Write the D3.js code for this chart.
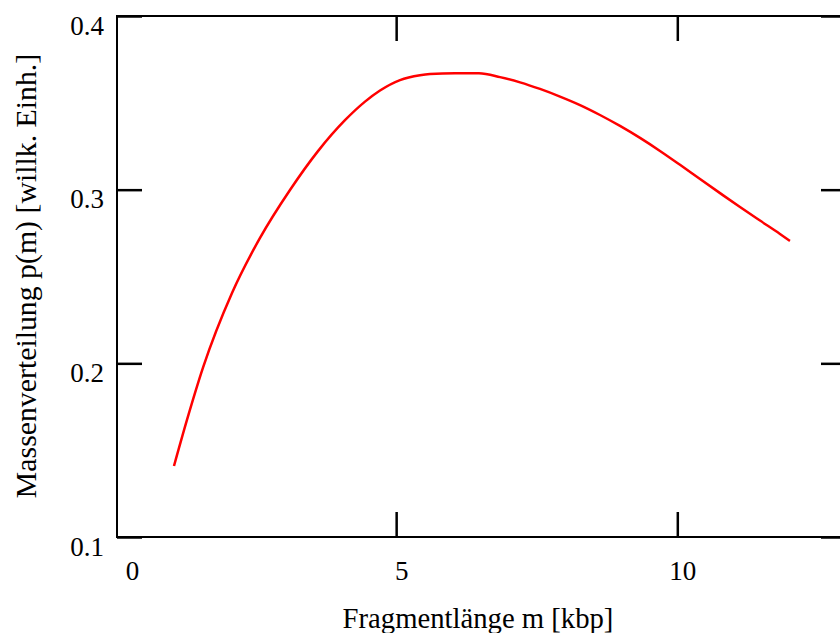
<!DOCTYPE html>
<html>
<head>
<meta charset="utf-8">
<script src="https://cdn.jsdelivr.net/npm/d3@7"></script>
<style>
  html, body { margin: 0; padding: 0; background: #fff; }
  svg { display: block; }
  text { font-family: "Liberation Serif", "Times New Roman", serif; fill: #000; }
</style>
</head>
<body>
<svg id="chart" width="840" height="633"></svg>
<script>
// ---- data ----
const xTicks = [0, 5, 10];
const yTicks = [0.1, 0.2, 0.3, 0.4];
const xTitle = "Fragmentlänge m [kbp]";
const yTitle = "Massenverteilung p(m) [willk. Einh.]";

const mValues = [1.049, 1.280, 1.565, 2.081, 2.579, 3.112, 3.610, 4.090, 4.446, 4.713, 5.068, 5.424, 5.602, 6.047, 6.473, 6.847, 7.203, 7.558, 7.914, 8.270, 8.625, 8.981, 9.337, 9.692, 10.048, 10.404, 10.760, 11.115, 11.471, 11.826, 12.004];
const pValues = [0.1409, 0.1674, 0.1975, 0.2405, 0.2722, 0.2998, 0.3222, 0.3400, 0.3507, 0.3571, 0.3631, 0.3659, 0.3666, 0.3671, 0.3670, 0.3648, 0.3618, 0.3580, 0.3536, 0.3487, 0.3430, 0.3367, 0.3298, 0.3223, 0.3143, 0.3061, 0.2980, 0.2900, 0.2822, 0.2745, 0.2705];

// ---- layout ----
const svg = d3.select("#chart");
const x = d3.scaleLinear().domain([0, 13]).range([115, 846]);
const y = d3.scaleLinear().domain([0.1, 0.4]).range([537, 16]);
const frameL = 117, frameR = x.range()[1], frameT = y(0.4), frameB = y(0.1);
const tickLen = 25;
const serif = "'Liberation Serif', 'Times New Roman', serif";

// frame
svg.append("rect")
  .attr("x", frameL).attr("y", frameT)
  .attr("width", frameR - frameL).attr("height", frameB - frameT)
  .attr("fill", "none").attr("stroke", "#000").attr("stroke-width", 2);

function styleAxis(g) {
  g.attr("font-family", serif).attr("font-size", 27);
  g.select(".domain").remove();
  g.selectAll(".tick line").attr("stroke", "#000").attr("stroke-width", 2.5);
  g.selectAll(".tick text")
    .attr("fill", "#000")
    .style("font-family", serif)
    .style("font-size", "27px");
}

// bottom axis
const gBottom = svg.append("g")
  .attr("transform", `translate(0,${frameB})`)
  .call(d3.axisBottom(x).tickValues(xTicks).tickSize(-tickLen).tickPadding(24).tickFormat(d3.format("d")))
  .call(styleAxis);
gBottom.selectAll(".tick").filter(d => d === 0).select("line").remove();
gBottom.selectAll(".tick text").attr("dx", d => d === 0 ? 17 : 5);

// top axis
const gTop = svg.append("g")
  .attr("transform", `translate(0,${frameT})`)
  .call(d3.axisTop(x).tickValues(xTicks).tickSize(-tickLen).tickFormat(""))
  .call(styleAxis);
gTop.selectAll(".tick").filter(d => d === 0).remove();

// left axis
const gLeft = svg.append("g")
  .attr("transform", `translate(${frameL},0)`)
  .call(d3.axisLeft(y).tickValues(yTicks).tickSize(-tickLen).tickPadding(13).tickFormat(d3.format(".1f")))
  .call(styleAxis);
gLeft.selectAll(".tick text").attr("dy", "0.67em");

// right axis
svg.append("g")
  .attr("transform", `translate(${frameR},0)`)
  .call(d3.axisRight(y).tickValues(yTicks).tickSize(-tickLen).tickFormat(""))
  .call(styleAxis);

// curve
const pts = mValues.map((m, i) => [m, pValues[i]]);
const line = d3.line()
  .x(d => x(d[0]))
  .y(d => y(d[1]))
  .curve(d3.curveMonotoneX);
svg.append("path")
  .datum(pts)
  .attr("d", line)
  .attr("fill", "none")
  .attr("stroke", "#ff0000")
  .attr("stroke-width", 2.5);

// titles
svg.append("text")
  .attr("x", 478).attr("y", 628)
  .attr("text-anchor", "middle")
  .style("font-family", serif)
  .style("font-size", "28.7px")
  .text(xTitle);

svg.append("text")
  .attr("transform", "translate(36,276) rotate(-90)")
  .attr("text-anchor", "middle")
  .style("font-family", serif)
  .style("font-size", "29.8px")
  .text(yTitle);
</script>
</body>
</html>
